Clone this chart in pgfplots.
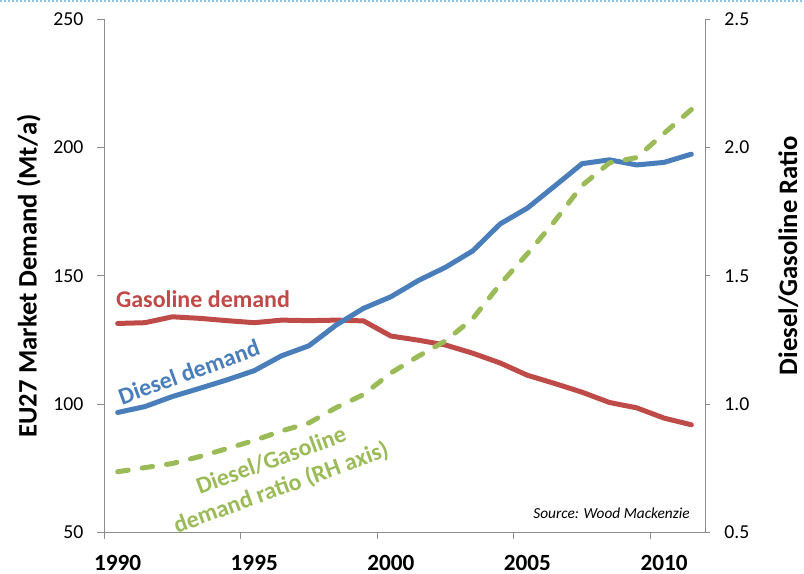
\documentclass[border=0pt]{standalone}
\usepackage{fontspec}
\setmainfont{Carlito}
\usepackage{pgfplots}
\pgfplotsset{compat=1.18}
\definecolor{dblue}{HTML}{4A7EBB}
\definecolor{gred}{HTML}{BE4B48}
\definecolor{rgreen}{HTML}{9BBB59}
\definecolor{axgray}{HTML}{8C8C8C}
\definecolor{topblue}{HTML}{8EC4EA}
\begin{document}
\begin{tikzpicture}
\pgfplotsset{
  common/.style={
    scale only axis, width=450.75pt, height=384.75pt,
    at={(78pt,31.3pt)}, anchor=south west,
    xmin=1989.5, xmax=2011.5,
    axis line style={draw=axgray, line width=0.75pt},
    tick style={draw=axgray, line width=0.75pt},
    tick align=outside,
    major tick length=4pt,
    /pgf/number format/assume math mode=true,
    yticklabel style={font=\fontsize{14.8}{17}\selectfont},
    clip=false,
  }
}
\begin{axis}[common,
  axis y line*=left, axis x line*=bottom,
  ymin=50, ymax=250, ytick={50,100,...,250},
  yticklabel style={xshift=-7pt},
  xtick={1989.5,1994.5,1999.5,2004.5,2009.5}, xticklabels={},
  major tick length=5pt,
  extra x ticks={1990,1995,2000,2005,2010},
  extra x tick labels={1990,1995,2000,2005,2010},
  extra x tick style={major tick length=0pt,
    xticklabel style={font=\fontsize{17.4}{20}\selectfont\bfseries, inner ysep=0pt, yshift=-16.8pt}},
]
\addplot[color=gred, line width=3.75pt, line join=round, line cap=round] coordinates {
(1990,131.4) (1991,131.7) (1992,134.0) (1993,133.4) (1994,132.5) (1995,131.7)
(1996,132.7) (1997,132.5) (1998,132.7) (1999,132.4) (2000,126.5) (2001,124.9)
(2002,123.0) (2003,119.8) (2004,116.0) (2005,111.2) (2006,108.0) (2007,104.6)
(2008,100.6) (2009,98.5) (2010,94.5) (2011,91.9)};
\addplot[color=dblue, line width=3.75pt, line join=round, line cap=round] coordinates {
(1990,96.7) (1991,99.0) (1992,102.9) (1993,106.1) (1994,109.4) (1995,113.0)
(1996,118.8) (1997,122.7) (1998,130.8) (1999,137.3) (2000,141.8) (2001,148.1)
(2002,153.3) (2003,159.7) (2004,170.2) (2005,176.4) (2006,185.0) (2007,193.7)
(2008,195.2) (2009,193.2) (2010,194.2) (2011,197.4)};
\end{axis}
\begin{axis}[common,
  axis y line*=right, axis x line=none,
  ymin=0.5, ymax=2.5, ytick={0.5,1.0,...,2.5},
  yticklabel style={xshift=7pt, /pgf/number format/.cd, fixed, fixed zerofill, precision=1},
]
\addplot[color=rgreen, line width=3.75pt, line join=round, line cap=round,
  dash pattern=on 8pt off 10.5pt] coordinates {
(1990,0.736) (1991,0.752) (1992,0.768) (1993,0.795) (1994,0.826) (1995,0.858)
(1996,0.895) (1997,0.926) (1998,0.986) (1999,1.037) (2000,1.121) (2001,1.186)
(2002,1.246) (2003,1.333) (2004,1.467) (2005,1.586) (2006,1.713) (2007,1.852)
(2008,1.940) (2009,1.961) (2010,2.055) (2011,2.148)};
\end{axis}
% annotations
\node[text=gred, font=\fontsize{18}{21.6}\selectfont\bfseries] at (152.25pt,206.25pt) {Gasoline demand};
\node[text=dblue, font=\fontsize{18}{21.6}\selectfont\bfseries, rotate=20] at (141.75pt,151.5pt) {Diesel demand};
\node[text=rgreen, font=\fontsize{18}{21.6}\selectfont\bfseries, rotate=20, align=center, inner sep=0pt] at (207.4pt,74.25pt) {Diesel/Gasoline\\demand ratio (RH axis)};
\node[font=\fontsize{11.5}{13}\selectfont\itshape, anchor=east, inner sep=0pt] at (517.5pt,45.2pt) {Source: Wood Mackenzie};
\node[font=\fontsize{20}{24}\selectfont\bfseries, rotate=90, anchor=base, inner sep=0pt] at (27.5pt,223.5pt) {EU27 Market Demand (Mt/a)};
\node[font=\fontsize{20}{24}\selectfont\bfseries, rotate=90, anchor=base, inner sep=0pt] at (597.75pt,238.5pt) {Diesel/Gasoline Ratio};
\draw[topblue, line width=1.5pt, dash pattern=on 1.2pt off 1.8pt] (0pt,429.4pt) -- (603pt,429.4pt);
\pgfresetboundingbox
\path[use as bounding box] (0,0) rectangle (603pt,430.5pt);
\end{tikzpicture}
\end{document}
